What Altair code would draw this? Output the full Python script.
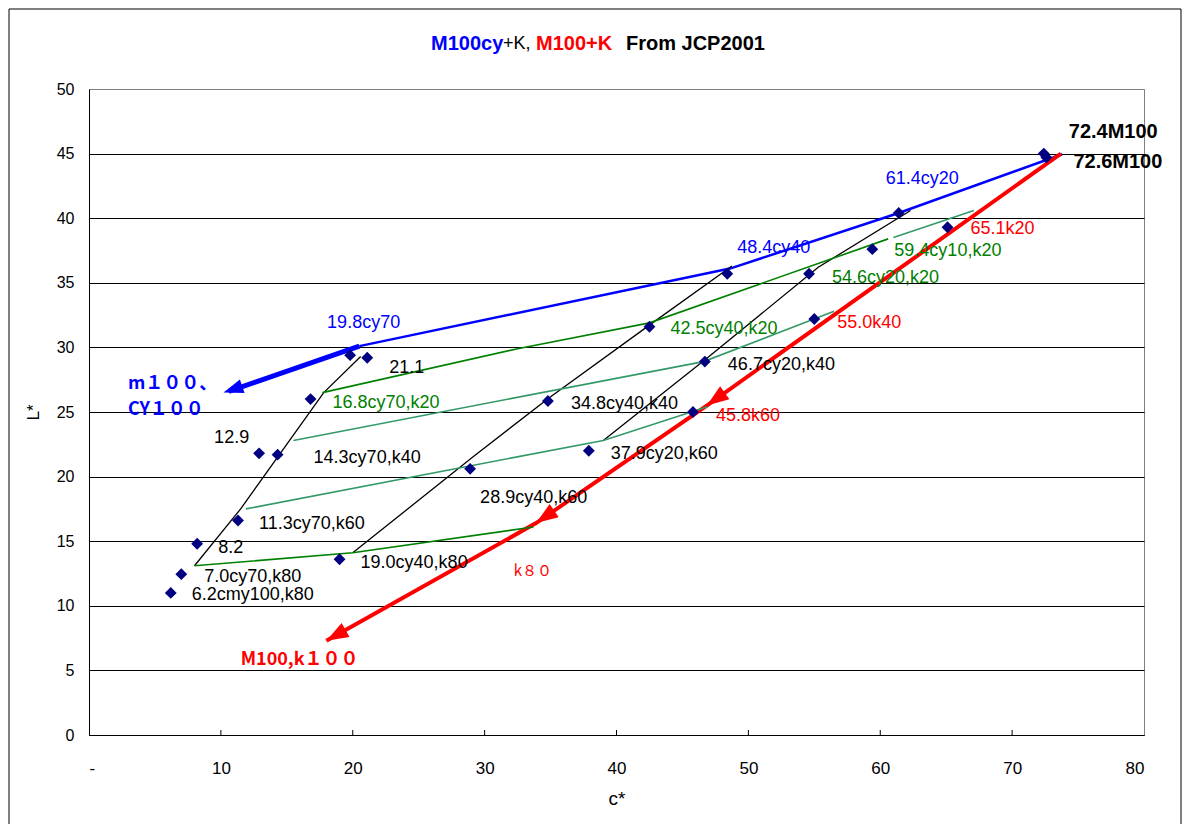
import math
import altair as alt
import pandas as pd

# Plot area size (pixels) and axis ranges
W, H = 1055, 646
C_MAX, L_MAX = 80, 50
SX, SY = W / C_MAX, H / L_MAX

BLUE, RED, GREEN, SEA, NAVY = "#0000FF", "#FF0000", "#008000", "#339966", "#000080"
SANS = "Liberation Sans, Arial, sans-serif"
CJK = "Noto Sans CJK JP, sans-serif"

# Measured samples (c*, L*) with their names
point_labels = ["72.4M100", "72.6M100", "61.4cy20", "65.1k20", "59.4cy10,k20", "48.4cy40",
                "54.6cy20,k20", "42.5cy40,k20", "55.0k40", "19.8cy70", "21.1", "46.7cy20,k40",
                "16.8cy70,k20", "34.8cy40,k40", "45.8k60", "12.9", "14.3cy70,k40", "37.9cy20,k60",
                "28.9cy40,k60", "11.3cy70,k60", "8.2", "19.0cy40,k80", "7.0cy70,k80", "6.2cmy100,k80"]
point_c = [72.4, 72.6, 61.4, 65.1, 59.4, 48.4, 54.6, 42.5, 55.0, 19.8, 21.1, 46.7,
           16.8, 34.8, 45.8, 12.9, 14.3, 37.9, 28.9, 11.3, 8.2, 19.0, 7.0, 6.2]
point_L = [45.0, 44.7, 40.4, 39.3, 37.6, 35.7, 35.7, 31.6, 32.2, 29.4, 29.2, 28.9,
           26.0, 25.85, 25.0, 21.8, 21.7, 22.0, 20.6, 16.6, 14.8, 13.6, 12.45, 11.0]
label_colors = ["black", "black", BLUE, RED, GREEN, BLUE, GREEN, GREEN, RED, BLUE, "black", "black",
                GREEN, "black", RED, "black", "black", "black", "black", "black", "black", "black",
                "black", "black"]
# label offsets from each sample, in pixels
label_dx = [25, 27, -13, 23, 22, 10, 23, 21, 23, -23, 22, 23, 22, 23, 23, -45, 36, 22, 10, 21, 21, 21, 23, 21]
label_dy = [-22, 5, -34, 2, 2, -26, 4, 2, 4, -32, 10, 3, 4, 3, 4, -15, 3, 3, 29, 3, 4, 4, 3, 2]
bold_labels = ["72.4M100", "72.6M100"]

# Connecting lines: (name, c*, L*, color, width)
lines = [
    ("M100cy", [73.8, 61.4, 48.6, 20.5], [44.95, 40.4, 36.1, 30.1], BLUE, 2.5),
    ("to CY100", [20.5, 10.6], [30.1, 26.6], BLUE, 5),
    ("M100+K", [73.7, 46.85, 33.9, 18.0], [45.0, 25.5, 16.4, 7.3], RED, 4),
    ("cy70", [20.6, 17.8, 11.5, 8.0], [29.3, 26.5, 17.5, 13.1], "black", 1.3),
    ("cy40", [48.75, 42.6, 34.9, 29.2, 20.0], [36.3, 31.8, 26.1, 21.6, 14.1], "black", 1.3),
    ("cy20", [62.3, 55.3, 46.9, 39.0], [40.6, 36.2, 29.2, 22.8], "black", 1.3),
    ("k20", [17.7, 32.5, 42.5, 60.6], [26.5, 29.9, 31.9, 38.4], GREEN, 1.6),
    ("k20 cy10", [61.0, 67.1], [38.5, 40.6], SEA, 1.6),
    ("k40", [15.5, 46.6, 56.5], [22.8, 28.9, 32.8], SEA, 1.6),
    ("k60", [11.9, 39.0, 46.9], [17.5, 22.8, 25.4], SEA, 1.6),
    ("k80", [8.0, 20.0, 33.7], [13.1, 14.1, 16.1], GREEN, 1.6),
]

# Arrow heads: (from c*, from L*, tip c*, tip L*, color, size)
arrows = [
    (20.5, 30.1, 10.2, 26.5, BLUE, 324),
    (73.7, 45.0, 46.85, 25.5, RED, 400),
    (46.85, 25.5, 33.9, 16.4, RED, 400),
    (33.9, 16.4, 18.0, 7.3, RED, 400),
]

# Free annotations (c*, L*)
note_text = ["m１００、", "CY１００", "M100,k１００"]
note_c = [2.95, 2.95, 11.5]
note_L = [27.2, 25.15, 5.8]
note_color = [BLUE, BLUE, RED]
k80_text, k80_c, k80_L = "k８０", 32.2, 12.7

x_scale = alt.Scale(domain=[0, C_MAX], nice=False)
y_scale = alt.Scale(domain=[0, L_MAX], nice=False)

pts = pd.DataFrame({"label": point_labels, "c": point_c, "L": point_L,
                    "color": label_colors, "dx": label_dx, "dy": label_dy})
pts["lc"] = pts["c"] + pts["dx"] / SX
pts["lL"] = pts["L"] - pts["dy"] / SY

rows = []
for name, cs, Ls, col, wd in lines:
    for i, (c, l) in enumerate(zip(cs, Ls)):
        rows.append({"series": name, "order": i, "c": c, "L": l, "color": col, "width": wd})
line_df = pd.DataFrame(rows)

arr_rows = []
for c0, l0, c1, l1, col, sz in arrows:
    dxp = (c1 - c0) * SX
    dyp = -(l1 - l0) * SY
    ang = math.degrees(math.atan2(dxp, -dyp)) % 360
    arr_rows.append({"c": c1, "L": l1, "angle": ang, "color": col, "size": sz})
arr_df = pd.DataFrame(arr_rows)

x_axis = alt.Axis(values=list(range(0, 81, 10)), labelExpr="datum.value == 0 ? '-' : datum.label",
                  grid=False, ticks=False, domainColor="black", labelFont=SANS, labelFontSize=17,
                  labelColor="black", labelPadding=25, title="c*", titleFont=SANS,
                  titleFontSize=19, titleFontWeight="normal", titlePadding=13, titleColor="black")
y_axis = alt.Axis(values=list(range(0, 51, 5)), grid=True, ticks=False, domainColor="black",
                  gridColor=alt.condition("datum.value == 50", alt.value("#808080"), alt.value("black")),
                  gridOpacity=1, labelFont=SANS, labelFontSize=16, labelColor="black", labelPadding=15,
                  title="L*", titleFont=SANS, titleFontSize=17, titleFontWeight="normal",
                  titlePadding=14, titleColor="black")

X = alt.X("c:Q", scale=x_scale, axis=x_axis)
Y = alt.Y("L:Q", scale=y_scale, axis=y_axis)
Xn = alt.X("c:Q", scale=x_scale)
Yn = alt.Y("L:Q", scale=y_scale)

base_lines = alt.Chart(line_df).mark_line(strokeCap="butt", strokeJoin="miter").encode(
    x=X, y=Y, detail="series:N", order="order:Q",
    color=alt.Color("color:N", scale=None), strokeWidth=alt.StrokeWidth("width:Q", scale=None))

heads = alt.Chart(arr_df).mark_point(shape="M0,0L-0.8,2.2L0.8,2.2Z", filled=True, opacity=1).encode(
    x=Xn, y=Yn, angle=alt.Angle("angle:Q", scale=None), color=alt.Color("color:N", scale=None),
    size=alt.Size("size:Q", scale=None))

diamonds = alt.Chart(pts).mark_point(shape="diamond", filled=True, color=NAVY, size=140, opacity=1).encode(
    x=Xn, y=Yn)

reg = pts[~pts["label"].isin(bold_labels)]
bold = pts[pts["label"].isin(bold_labels)]
text_regular = alt.Chart(reg).mark_text(align="left", baseline="middle", font=SANS, fontSize=18).encode(
    x=alt.X("lc:Q", scale=x_scale), y=alt.Y("lL:Q", scale=y_scale), text="label:N",
    color=alt.Color("color:N", scale=None))
text_bold = alt.Chart(bold).mark_text(align="left", baseline="middle", font=SANS, fontSize=20,
                                      fontWeight="bold").encode(
    x=alt.X("lc:Q", scale=x_scale), y=alt.Y("lL:Q", scale=y_scale), text="label:N",
    color=alt.Color("color:N", scale=None))

notes_df = pd.DataFrame({"text": note_text, "c": note_c, "L": note_L, "color": note_color})
notes = alt.Chart(notes_df).mark_text(align="left", baseline="middle", font=CJK, fontSize=18,
                                      fontWeight="bold").encode(
    x=Xn, y=Yn, text="text:N", color=alt.Color("color:N", scale=None))
k80 = alt.Chart(pd.DataFrame({"text": [k80_text], "c": [k80_c], "L": [k80_L]})).mark_text(
    align="left", baseline="middle", font=CJK, fontSize=15, color=RED).encode(x=Xn, y=Yn, text="text:N")

# inward tick marks on the c* axis
ticks = alt.Chart(pd.DataFrame({"c": list(range(10, 80, 10))})).mark_rule(color="black").encode(
    x=Xn, y=alt.value(H), y2=alt.value(H - 5))

# heading: coloured pieces of one line
title_df = pd.DataFrame({
    "text": ["M100cy", "+K,", "M100+K", "From JCP2001"],
    "x": [342, 414, 447, 537],
    "color": [BLUE, "black", RED, "black"],
})
title_bold = alt.Chart(title_df[title_df["text"] != "+K,"]).mark_text(
    align="left", baseline="middle", font=SANS, fontSize=20, fontWeight="bold").encode(
    x=alt.X("x:Q", scale=None), y=alt.value(-45), text="text:N", color=alt.Color("color:N", scale=None))
title_plain = alt.Chart(title_df[title_df["text"] == "+K,"]).mark_text(
    align="left", baseline="middle", font=SANS, fontSize=18).encode(
    x=alt.X("x:Q", scale=None), y=alt.value(-45), text="text:N", color=alt.Color("color:N", scale=None))

# outer frame of the chart
frame_df = pd.DataFrame({"x": [-80, 1092, -80], "x2": [-80, 1092, 1092],
                         "y": [-80, -80, -80], "y2": [735, 735, -80]})
frame = alt.Chart(frame_df).mark_rule(color="black", strokeWidth=1).encode(
    x=alt.X("x:Q", scale=None), x2="x2:Q", y=alt.Y("y:Q", scale=None), y2="y2:Q")

chart = alt.layer(
    base_lines, heads, diamonds, text_regular, text_bold, notes, k80, ticks,
    title_bold, title_plain, frame
).properties(
    width=W, height=H, padding={"left": 8, "top": 8, "right": 5, "bottom": 0}, background="white"
).configure_view(stroke="#808080", strokeWidth=1)

chart.save("out.html", embed_options={"renderer": "svg", "actions": False})
